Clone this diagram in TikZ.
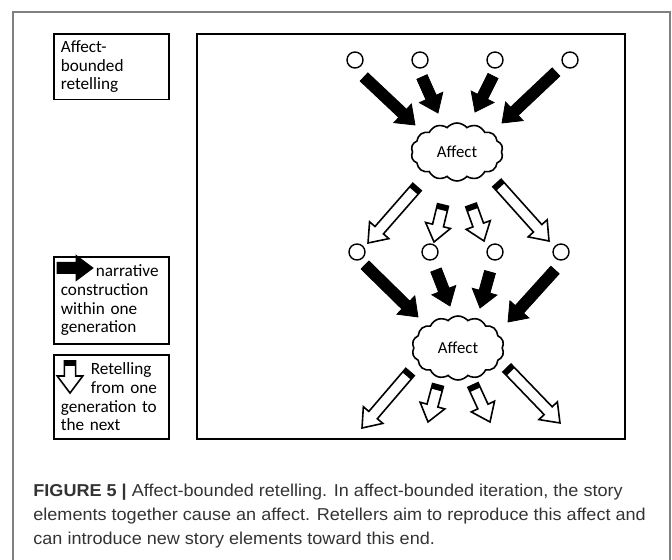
\documentclass[tikz,border=0pt]{standalone}
\usepackage{fontspec}
\setmainfont{Carlito}
\newfontfamily\capfont[FakeStretch=1.05]{Liberation Sans}
\usetikzlibrary{shapes.symbols}

\definecolor{capgray}{RGB}{51,51,51}
\definecolor{framegray}{RGB}{128,128,128}

% block arrow sizes
\newcommand\arrshaft{2.8pt}
\newcommand\arrhead{6.4pt}
\newcommand\arrtip{8.5pt}
\newcommand\arrband{2.6pt}

% block arrow from tail coordinate #2 to tip coordinate #3
\newcommand\blockarrow[3]{%
  \pgfpointdiff{\pgfpointanchor{#2}{center}}{\pgfpointanchor{#3}{center}}%
  \pgfgetlastxy{\arrdx}{\arrdy}%
  \pgfmathsetmacro\arrlen{veclen(\arrdx,\arrdy)}%
  \pgfmathsetmacro\arrang{atan2(\arrdy,\arrdx)}%
  \begin{scope}[shift={(#2)},rotate=\arrang]
    \filldraw[#1] (0pt,-\arrshaft) -- ({\arrlen pt-\arrtip},-\arrshaft)
      -- ({\arrlen pt-\arrtip},-\arrhead) -- (\arrlen pt,0pt)
      -- ({\arrlen pt-\arrtip},\arrhead) -- ({\arrlen pt-\arrtip},\arrshaft)
      -- (0pt,\arrshaft) -- cycle;
    \fill[black] (0pt,-\arrshaft) rectangle (\arrband,\arrshaft);
  \end{scope}}

\tikzset{
  narr/.style={fill=black, draw=black, line width=0.4pt, line join=miter},
  retell/.style={fill=white, draw=black, line width=0.8pt, line join=miter},
  element/.style={circle, draw, line width=0.7pt, minimum size=8pt, inner sep=0pt},
  affect/.style={cloud, cloud puffs=14, cloud puff arc=100, cloud ignores aspect,
    draw, line width=0.8pt, minimum width=46pt, minimum height=29pt, inner sep=0pt,
    font=\fontsize{8.4}{9}\selectfont},
  legend/.style={draw, line width=0.8pt, anchor=north west, align=left,
    text width=50.5pt, minimum width=57.5pt, inner xsep=3.5pt,
    font=\fontsize{8.6}{9.4}\selectfont},
}

\begin{document}
\begin{tikzpicture}[x=0.5pt, y=-0.5pt]
\useasboundingbox (0,0) rectangle (672,560);
% page frame
\draw[framegray, line width=0.6pt] (13,560) -- (13,12) -- (670,12) -- (670,560);

% legend
\node[legend, minimum height=32.5pt] (lgtitle) at (53,33) {Affect-\\bounded\\retelling};
\node[legend, minimum height=43.5pt] (lgnarr) at (53,256)
  {\hspace*{17.5pt}narrative\\construction\\within one\\generation};
\node[legend, minimum height=42pt] (lgretell) at (53,354)
  {\hspace*{15pt}Retelling\\\hspace*{15pt}from one\\generation to\\the next};
\coordinate (lgnt) at (57,268); \coordinate (lgnh) at (93,268);
\coordinate (lgrt) at (70,361); \coordinate (lgrh) at (70,393);
\blockarrow{narr}{lgnt}{lgnh}
\blockarrow{retell}{lgrt}{lgrh}

% main panel
\node[draw, line width=0.8pt, anchor=north west, minimum width=214pt,
  minimum height=202.5pt, inner sep=0pt] (panel) at (196,33) {};

% story elements
\foreach \n/\x in {1/355,2/420,3/495,4/570}
  \node[element] (e1\n) at (\x,60) {};
\foreach \n/\x in {1/357,2/430,3/495,4/561}
  \node[element] (e2\n) at (\x,252) {};

% affects
\node[affect] (aff1) at (457,152) {Affect};
\node[affect, minimum height=32pt] (aff2) at (458,348) {Affect};

% narrative construction
\foreach \n/\a/\b in {1/{364,77}/{415,125}, 2/{422,77}/{438,113},
    3/{493,76}/{475,112}, 4/{556,72}/{502,123}}{
  \coordinate (nt1\n) at (\a); \coordinate (nh1\n) at (\b);
  \blockarrow{narr}{nt1\n}{nh1\n}
}
\foreach \n/\a/\b in {1/{365,265}/{418,317}, 2/{436,270}/{450,306},
    3/{490,272}/{480,308}, 4/{555,270}/{508,322}}{
  \coordinate (nt2\n) at (\a); \coordinate (nh2\n) at (\b);
  \blockarrow{narr}{nt2\n}{nh2\n}
}

% retelling
\foreach \n/\a/\b in {1/{417,187}/{368,243}, 2/{443,205}/{434,242},
    3/{471,205}/{484,241}, 4/{497,183}/{549,241}}{
  \coordinate (rt1\n) at (\a); \coordinate (rh1\n) at (\b);
  \blockarrow{retell}{rt1\n}{rh1\n}
}
\foreach \n/\a/\b in {1/{410,372}/{362,428}, 2/{438,385}/{428,422},
    3/{473,385}/{490,422}, 4/{507,368}/{560,423}}{
  \coordinate (rt2\n) at (\a); \coordinate (rh2\n) at (\b);
  \blockarrow{retell}{rt2\n}{rh2\n}
}

% caption (base = last line)
\node[anchor=base west, align=left, inner sep=0pt, text=capgray,
  font=\capfont\fontsize{8.6}{12}\selectfont] (caption) at (33,544)
  {\textbf{FIGURE 5 |} Affect-bounded retelling. In affect-bounded iteration, the story\\
   elements together cause an affect. Retellers aim to reproduce this affect and\\
   can introduce new story elements toward this end.};
\end{tikzpicture}
\end{document}
